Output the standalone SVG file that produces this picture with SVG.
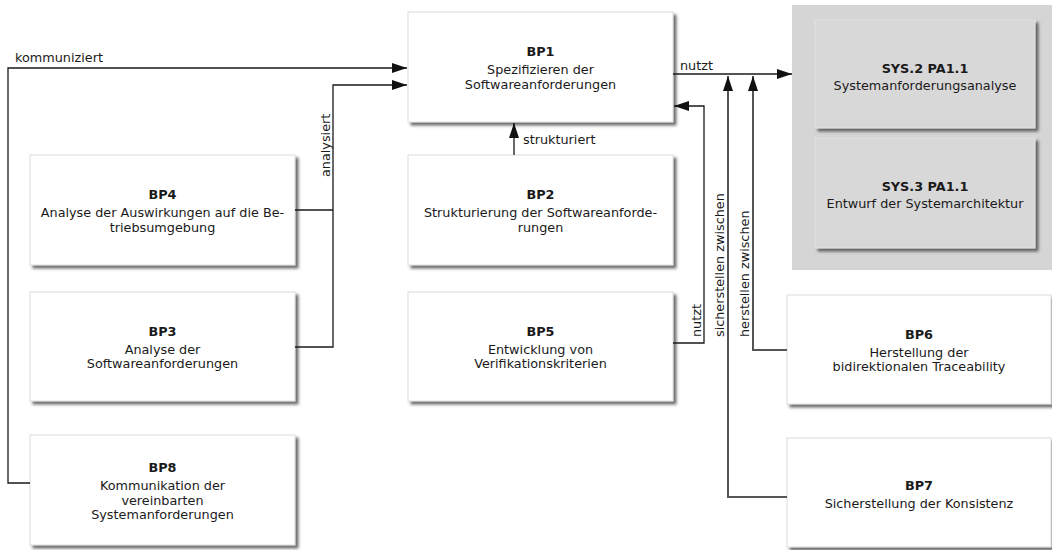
<svg xmlns="http://www.w3.org/2000/svg" width="1052" height="550" viewBox="0 0 1052 550">
  <defs>
    <filter id="shadow" x="-5%" y="-5%" width="115%" height="120%">
      <feDropShadow dx="3" dy="3" stdDeviation="1.6" flood-color="#3a3a3a" flood-opacity="0.75"/>
    </filter>
    <marker id="arrow" markerUnits="userSpaceOnUse" markerWidth="16" markerHeight="11" refX="15" refY="5" orient="auto">
      <path d="M0,0 L15,5 L0,10 z" fill="#111"/>
    </marker>
    <style>
      text { font-family: "DejaVu Sans", "Open Sans", "Liberation Sans", sans-serif; font-size: 12.8px; fill: #1a1a1a; }
      .title { font-weight: bold; text-anchor: middle; }
      .body { text-anchor: middle; }
      .box { fill: #ffffff; stroke: #dcdcdc; stroke-width: 1; filter: url(#shadow); }
      .sysbox { fill: #d8d8d8; stroke: #e2e2e2; stroke-width: 1; filter: url(#shadow); }
      .conn { fill: none; stroke: #1a1a1a; stroke-width: 1.3; }
      .conn-grey { fill: none; stroke: #555555; stroke-width: 2; }
    </style>
  </defs>

  <!-- grey area holding the system-level processes -->
  <rect id="system-area" x="792" y="5" width="260" height="265" fill="#d5d5d5"/>

  <g id="SYS2">
    <rect class="sysbox" x="815" y="20" width="220" height="108"/>
    <text class="title" x="925" y="73">SYS.2 PA1.1</text>
    <text class="body" x="925" y="90">Systemanforderungsanalyse</text>
  </g>

  <g id="SYS3">
    <rect class="sysbox" x="815" y="138" width="220" height="110"/>
    <text class="title" x="925" y="191">SYS.3 PA1.1</text>
    <text class="body" x="925" y="208">Entwurf der Systemarchitektur</text>
  </g>

  <g id="BP1">
    <rect class="box" x="408" y="12" width="265" height="110"/>
    <text class="title" x="540.5" y="56">BP1</text>
    <text class="body" x="540.5" y="74">Spezifizieren der</text>
    <text class="body" x="540.5" y="88.5">Softwareanforderungen</text>
  </g>

  <g id="BP2">
    <rect class="box" x="408" y="155" width="265" height="110"/>
    <text class="title" x="540.5" y="199">BP2</text>
    <text class="body" x="540.5" y="217">Strukturierung der Softwareanforde-</text>
    <text class="body" x="540.5" y="231.5">rungen</text>
  </g>

  <g id="BP5">
    <rect class="box" x="408" y="292" width="265" height="109"/>
    <text class="title" x="540.5" y="335.5">BP5</text>
    <text class="body" x="540.5" y="353.5">Entwicklung von</text>
    <text class="body" x="540.5" y="368">Verifikationskriterien</text>
  </g>

  <g id="BP4">
    <rect class="box" x="30" y="155" width="265" height="110"/>
    <text class="title" x="162.5" y="199">BP4</text>
    <text class="body" x="162.5" y="217">Analyse der Auswirkungen auf die Be-</text>
    <text class="body" x="162.5" y="231.5">triebsumgebung</text>
  </g>

  <g id="BP3">
    <rect class="box" x="30" y="292" width="265" height="109"/>
    <text class="title" x="162.5" y="335.5">BP3</text>
    <text class="body" x="162.5" y="353.5">Analyse der</text>
    <text class="body" x="162.5" y="368">Softwareanforderungen</text>
  </g>

  <g id="BP8">
    <rect class="box" x="30" y="435" width="265" height="110"/>
    <text class="title" x="162.5" y="472">BP8</text>
    <text class="body" x="162.5" y="490">Kommunikation der</text>
    <text class="body" x="162.5" y="504.5">vereinbarten</text>
    <text class="body" x="162.5" y="519">Systemanforderungen</text>
  </g>

  <g id="BP6">
    <rect class="box" x="787" y="295" width="264" height="109"/>
    <text class="title" x="919" y="338.5">BP6</text>
    <text class="body" x="919" y="356.5">Herstellung der</text>
    <text class="body" x="919" y="371">bidirektionalen Traceability</text>
  </g>

  <g id="BP7">
    <rect class="box" x="787" y="438" width="264" height="109"/>
    <text class="title" x="919" y="490">BP7</text>
    <text class="body" x="919" y="508">Sicherstellung der Konsistenz</text>
  </g>

  <g id="connectors">
    <!-- BP8 communicates to BP1 -->
    <path class="conn" d="M30,483 H8 V68 H407" marker-end="url(#arrow)"/>
    <text x="15" y="62">kommuniziert</text>

    <!-- BP4 and BP3 analyse into BP1 -->
    <path class="conn" d="M295,210 H333"/>
    <path class="conn" d="M295,347 H333 V85 H407" marker-end="url(#arrow)"/>
    <text transform="translate(330,177) rotate(-90)">analysiert</text>

    <!-- BP2 structures BP1 -->
    <path class="conn" d="M514,155 V123" marker-end="url(#arrow)"/>
    <text x="523" y="144">strukturiert</text>

    <!-- BP1 uses the system-level results -->
    <path class="conn" d="M673,74 H792" marker-end="url(#arrow)"/>
    <text x="680" y="70">nutzt</text>

    <!-- BP5 uses BP1 -->
    <path class="conn" d="M673,343 H704 V106 H674" marker-end="url(#arrow)"/>
    <text transform="translate(701,337) rotate(-90)">nutzt</text>

    <!-- BP7 ensures consistency between -->
    <path class="conn-grey" d="M787,497 H728 V76" marker-end="url(#arrow)"/>
    <text transform="translate(724,337) rotate(-90)">sicherstellen zwischen</text>

    <!-- BP6 establishes traceability between -->
    <path class="conn-grey" d="M787,350 H753 V76" marker-end="url(#arrow)"/>
    <text transform="translate(749,337) rotate(-90)">herstellen zwischen</text>
  </g>
</svg>
